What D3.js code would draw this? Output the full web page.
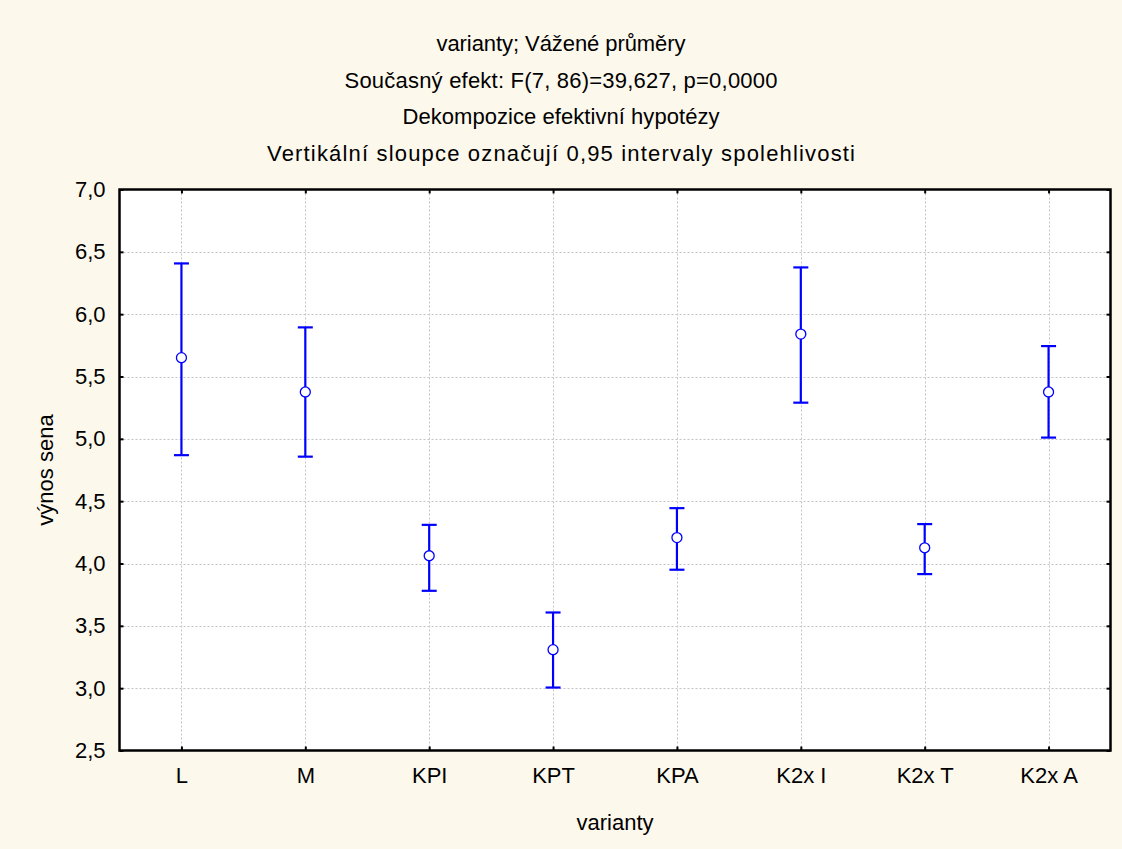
<!DOCTYPE html>
<html>
<head>
<meta charset="utf-8">
<script src="https://cdn.jsdelivr.net/npm/d3@7"></script>
<style>
  html, body { margin: 0; padding: 0; background: #fdf8ec; }
  svg { display: block; }
  text { font-family: "Liberation Sans", Arial, sans-serif; fill: #000; }
</style>
</head>
<body>
<script>
const categories = ["L", "M", "KPI", "KPT", "KPA", "K2x I", "K2x T", "K2x A"];
const means = [5.651, 5.376, 4.062, 3.309, 4.208, 5.840, 4.126, 5.376];
const lower = [4.869, 4.857, 3.781, 3.005, 3.950, 5.290, 3.915, 5.010];
const upper = [6.407, 5.894, 4.310, 3.607, 4.444, 6.375, 4.316, 5.744];
const yTicks = [2.5, 3.0, 3.5, 4.0, 4.5, 5.0, 5.5, 6.0, 6.5, 7.0];
const titleLines = [
  "varianty; Vážené průměry",
  "Současný efekt: F(7, 86)=39,627, p=0,0000",
  "Dekompozice efektivní hypotézy",
  "Vertikální sloupce označují 0,95 intervaly spolehlivosti"
];
const xTitle = "varianty";
const yTitle = "výnos sena";

const W = 1122, H = 849;
const m = { left: 119.5, right: 1110.5, top: 189.5, bottom: 750.5 };

const svg = d3.select("body").append("svg").attr("width", W).attr("height", H);
svg.append("rect").attr("width", W).attr("height", H).attr("fill", "#fdf8ec");

const x = d3.scalePoint().domain(categories).range([m.left, m.right]).padding(0.5);
const y = d3.scaleLinear().domain([2.5, 7.0]).range([m.bottom, m.top]);
const fmt = v => d3.format(".1f")(v).replace(".", ",");

// plot background
svg.append("rect").attr("x", m.left).attr("y", m.top)
  .attr("width", m.right - m.left).attr("height", m.bottom - m.top).attr("fill", "#fff");

// grid
const grid = svg.append("g").attr("stroke", "#c4c4c4").attr("stroke-width", 1).attr("stroke-dasharray", "2,2");
grid.selectAll("line.h").data(yTicks.filter(t => t > 2.5 && t < 7.0)).join("line")
  .attr("x1", m.left).attr("x2", m.right)
  .attr("y1", d => Math.round(y(d)) + 0.5).attr("y2", d => Math.round(y(d)) + 0.5);
grid.selectAll("line.v").data(categories).join("line")
  .attr("y1", m.top).attr("y2", m.bottom)
  .attr("x1", d => Math.round(x(d)) + 0.5).attr("x2", d => Math.round(x(d)) + 0.5);

// axes with inward ticks
const fontSize = 22;
const yAxisL = d3.axisLeft(y).tickValues(yTicks).tickFormat(fmt).tickSizeInner(-4).tickSizeOuter(0).tickPadding(14);
const gL = svg.append("g").attr("transform", `translate(${m.left},0)`).call(yAxisL);
const yAxisR = d3.axisRight(y).tickValues(yTicks).tickFormat("").tickSizeInner(-4).tickSizeOuter(0);
const gR = svg.append("g").attr("transform", `translate(${m.right},0)`).call(yAxisR);
const xAxisB = d3.axisBottom(x).tickSizeInner(-4).tickSizeOuter(0).tickPadding(17);
const gB = svg.append("g").attr("transform", `translate(0,${m.bottom})`).call(xAxisB);
const xAxisT = d3.axisTop(x).tickFormat("").tickSizeInner(-4).tickSizeOuter(0);
const gT = svg.append("g").attr("transform", `translate(0,${m.top})`).call(xAxisT);
[gL, gR, gB, gT].forEach(g => {
  g.select(".domain").remove();
  g.selectAll(".tick line").attr("stroke", "#000").attr("stroke-width", 2);
  g.selectAll("text").attr("font-size", fontSize).attr("font-family", "Liberation Sans, Arial, sans-serif").attr("fill", "#000");
});

// frame
svg.append("rect").attr("x", m.left).attr("y", m.top)
  .attr("width", m.right - m.left).attr("height", m.bottom - m.top)
  .attr("fill", "none").attr("stroke", "#000").attr("stroke-width", 2.5);

// error bars
const data = categories.map((c, i) => ({ c, mean: means[i], lo: lower[i], hi: upper[i] }));
const eb = svg.append("g").attr("stroke", "#0000ff").attr("stroke-width", 2.2);
const cap = 7.5;
eb.selectAll("line.bar").data(data).join("line")
  .attr("x1", d => x(d.c)).attr("x2", d => x(d.c))
  .attr("y1", d => y(d.lo)).attr("y2", d => y(d.hi));
eb.selectAll("line.top").data(data).join("line")
  .attr("x1", d => x(d.c) - cap).attr("x2", d => x(d.c) + cap)
  .attr("y1", d => y(d.hi)).attr("y2", d => y(d.hi));
eb.selectAll("line.bot").data(data).join("line")
  .attr("x1", d => x(d.c) - cap).attr("x2", d => x(d.c) + cap)
  .attr("y1", d => y(d.lo)).attr("y2", d => y(d.lo));
svg.append("g").selectAll("circle").data(data).join("circle")
  .attr("cx", d => x(d.c)).attr("cy", d => y(d.mean)).attr("r", 5)
  .attr("fill", "#fff").attr("stroke", "#0000ff").attr("stroke-width", 1.3);

// titles
const titleWidths = [249, 433, 317, 588];
svg.append("g").selectAll("text").data(titleLines).join("text")
  .attr("x", 561).attr("y", (d, i) => 51 + i * 36.5)
  .attr("text-anchor", "middle").attr("font-size", fontSize)
  .attr("textLength", (d, i) => titleWidths[i]).attr("lengthAdjust", "spacing")
  .text(d => d);

svg.append("text").attr("x", (m.left + m.right) / 2).attr("y", 830)
  .attr("text-anchor", "middle").attr("font-size", fontSize).text(xTitle);

svg.append("text").attr("transform", `translate(53,${(m.top + m.bottom) / 2}) rotate(-90)`)
  .attr("text-anchor", "middle").attr("font-size", fontSize).text(yTitle);
</script>
</body>
</html>
